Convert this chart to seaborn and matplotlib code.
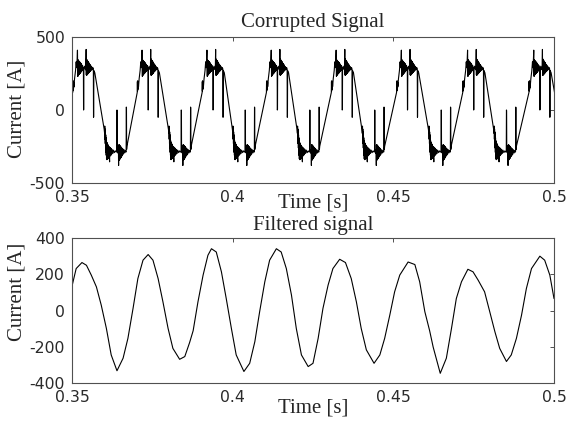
import numpy as np
import pandas as pd
import seaborn as sns
import matplotlib
matplotlib.use("Agg")
import matplotlib.pyplot as plt

# ---- data ----
# corrupted signal: crest / trough times (s) and the shape of one half cycle
crest_t = [0.3542, 0.3743, 0.3945, 0.4145, 0.4347, 0.4550, 0.4756, 0.4962]
trough_t = [0.3645, 0.3845, 0.4044, 0.4245, 0.4447, 0.4654, 0.4857]

# (offset from the centre in ms, current in A): ringing, notches and spikes
crest_shape = [
    (-4.0, 120), (-3.95, 195), (-3.9, 130), (-3.85, 200), (-3.8, 140), (-3.75, 195),
    (-3.7, 150), (-3.65, 190), (-3.6, 160), (-3.4, 215), (-3.1, 270), (-2.9, 330),
    (-2.75, 290), (-2.6, 350), (-2.5, 410), (-2.45, 300),
    (-2.4, 230), (-2.35, 345), (-2.3, 235), (-2.25, 340), (-2.2, 240), (-2.15, 338),
    (-2.1, 242), (-2.05, 335), (-2.0, 245), (-1.95, 332), (-1.9, 248), (-1.85, 330),
    (-1.8, 250), (-1.75, 328), (-1.7, 252), (-1.65, 325), (-1.6, 255), (-1.55, 322),
    (-1.5, 258), (-1.45, 320), (-1.4, 260), (-1.35, 316), (-1.3, 264), (-1.25, 312),
    (-1.2, 266), (-1.1, 308), (-1.0, 270), (-0.9, 304), (-0.8, 275),
    (-0.65, 290), (-0.6, 0), (-0.55, 5), (-0.5, 285), (-0.3, 300), (-0.1, 280),
    (0.1, 275), (0.2, 415), (0.25, 240),
    (0.3, 350), (0.35, 238), (0.4, 345), (0.45, 240), (0.5, 342), (0.55, 243),
    (0.6, 338), (0.65, 246), (0.7, 335), (0.75, 248), (0.8, 332), (0.85, 250),
    (0.9, 328), (0.95, 253), (1.0, 325), (1.05, 256), (1.1, 320), (1.15, 259),
    (1.2, 316), (1.3, 262), (1.4, 312), (1.5, 266), (1.6, 306), (1.7, 270),
    (1.9, 298), (2.1, 276), (2.3, 290),
    (2.45, 280), (2.5, -50), (2.55, -45), (2.6, 270), (2.9, 255),
]
trough_shape = [
    (-4.5, -130), (-4.35, -160), (-4.3, -110), (-4.25, -200), (-4.2, -130), (-4.15, -230),
    (-4.1, -150), (-4.05, -260), (-4.0, -170), (-3.95, -290), (-3.9, -190), (-3.85, -310),
    (-3.8, -210), (-3.75, -335), (-3.7, -220), (-3.65, -340), (-3.6, -225), (-3.55, -338),
    (-3.5, -230), (-3.45, -335), (-3.4, -235), (-3.35, -332), (-3.3, -240), (-3.25, -330),
    (-3.2, -245), (-3.1, -325), (-3.0, -250), (-2.9, -318), (-2.8, -355), (-2.75, -255),
    (-2.6, -315), (-2.5, -260), (-2.4, -310), (-2.3, -265), (-2.2, -305), (-2.0, -270),
    (-1.8, -298), (-1.6, -275), (-1.3, -292), (-1.0, -280), (-0.7, -288),
    (-0.55, -285), (-0.5, 0), (-0.45, -5), (-0.4, -280), (-0.2, -295), (-0.05, -270),
    (0.0, -380), (0.05, -240),
    (0.1, -345), (0.15, -238), (0.2, -342), (0.25, -240), (0.3, -340), (0.35, -243),
    (0.4, -336), (0.45, -246), (0.5, -333), (0.55, -248), (0.6, -330), (0.65, -251),
    (0.7, -326), (0.75, -254), (0.8, -322), (0.9, -258), (1.0, -316), (1.1, -262),
    (1.2, -310), (1.3, -266), (1.5, -302), (1.7, -272), (1.9, -294), (2.1, -278),
    (2.3, -288),
    (2.35, -280), (2.4, 20), (2.45, 15), (2.5, -270), (2.6, -248),
]

# filtered signal, sampled along the curve
filt_t = [0.3500, 0.3513, 0.3531, 0.3545, 0.3560, 0.3576, 0.3591, 0.3607, 0.3622, 0.3640,
          0.3659, 0.3674, 0.3690, 0.3705, 0.3721, 0.3737, 0.3752, 0.3768, 0.3783, 0.3799,
          0.3814, 0.3835, 0.3851, 0.3866, 0.3877, 0.3892, 0.3908, 0.3923, 0.3934, 0.3949,
          0.3965, 0.3980, 0.3996, 0.4011, 0.4035, 0.4053, 0.4069, 0.4084, 0.4100, 0.4115,
          0.4136, 0.4151, 0.4167, 0.4183, 0.4198, 0.4214, 0.4235, 0.4250, 0.4266, 0.4281,
          0.4297, 0.4312, 0.4333, 0.4351, 0.4369, 0.4385, 0.4400, 0.4416, 0.4440, 0.4458,
          0.4473, 0.4489, 0.4504, 0.4520, 0.4546, 0.4567, 0.4582, 0.4598, 0.4613, 0.4624,
          0.4646, 0.4665, 0.4681, 0.4696, 0.4712, 0.4732, 0.4748, 0.4764, 0.4784, 0.4800,
          0.4816, 0.4831, 0.4852, 0.4867, 0.4883, 0.4899, 0.4914, 0.4930, 0.4956, 0.4971,
          0.4987, 0.5000]
filt_i = [135, 232, 265, 250, 196, 131, 31, -97, -243, -330,
          -261, -152, 13, 177, 278, 309, 278, 177, 49, -97,
          -207, -267, -252, -175, -110, 49, 196, 305, 341, 323,
          214, 67, -97, -243, -334, -289, -170, -5, 159, 278,
          341, 323, 232, 86, -97, -243, -307, -289, -152, 13,
          141, 232, 283, 265, 177, 49, -97, -215, -289, -243,
          -152, -24, 104, 196, 268, 254, 159, -5, -110, -200,
          -344, -261, -97, 67, 159, 228, 214, 168, 104, -5,
          -115, -207, -279, -243, -152, -24, 122, 232, 300, 278,
          196, 67]

x_ticks = [0.35, 0.4, 0.45, 0.5]
x_ticklabels = ["0.35", "0.4", "0.45", "0.5"]

# ---- build the corrupted series from the half cycles ----
rows = [(0.35, 150.0)]
events = [(t, crest_shape) for t in crest_t] + [(t, trough_shape) for t in trough_t]
for tc, shape in sorted(events, key=lambda e: e[0]):
    rows += [(tc + dt / 1000.0, v) for dt, v in shape]
rows.append((0.5008, 40.0))
corrupt = pd.DataFrame(rows, columns=["t", "i"])
filtered = pd.DataFrame({"t": filt_t, "i": filt_i})

sns.set_style("white")
plt.rcParams["font.family"] = ["DejaVu Sans"]
plt.rcParams["axes.unicode_minus"] = False

fig = plt.figure(figsize=(5.66, 4.21), dpi=100)
ax1 = fig.add_axes([0.1272, 0.5653, 0.8516, 0.3468])
ax2 = fig.add_axes([0.1272, 0.0891, 0.8516, 0.3456])

serif = "Liberation Serif"
frame = "#505050"

for ax, df, ylim, yticks in [(ax1, corrupt, (-500, 500), [-500, 0, 500]),
                              (ax2, filtered, (-400, 400), [-400, -200, 0, 200, 400])]:
    sns.lineplot(data=df, x="t", y="i", ax=ax, color="black", linewidth=0.8,
                 estimator=None, sort=False)
    ax.set_xlim(0.35, 0.5)
    ax.set_ylim(*ylim)
    ax.set_xticks(x_ticks)
    ax.set_xticklabels(x_ticklabels)
    ax.set_yticks(yticks)
    ax.tick_params(direction="in", length=3.2, width=0.7, color=frame,
                   top=True, right=True, labelsize=11.3, labelcolor="#2a2a2a")
    ax.tick_params(axis="x", pad=5)
    ax.tick_params(axis="y", pad=5)
    for s in ax.spines.values():
        s.set_color(frame)
        s.set_linewidth(0.8)
    ax.set_xlabel("Time [s]", family=serif, fontsize=15, va="center")
    ax.set_ylabel("Current [A]", family=serif, fontsize=15, va="center")

ax1.set_title("Corrupted Signal", family=serif, fontsize=15, pad=7)
ax2.set_title("Filtered signal", family=serif, fontsize=15, pad=6)

ax1.xaxis.set_label_coords(0.5, -0.137)
ax2.xaxis.set_label_coords(0.5, -0.168)
ax1.yaxis.set_label_coords(-0.114, 0.51)
ax2.yaxis.set_label_coords(-0.114, 0.632)

fig.savefig("out.png", dpi=100)
